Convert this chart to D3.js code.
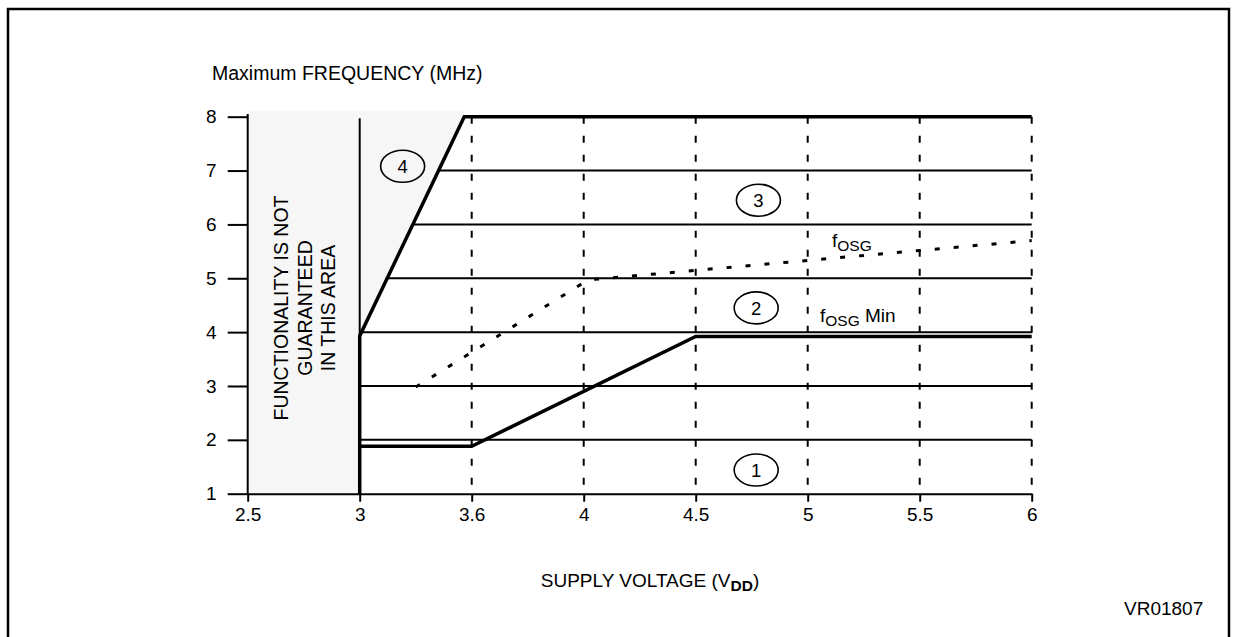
<!DOCTYPE html>
<html><head><meta charset="utf-8">
<script src="https://cdn.jsdelivr.net/npm/d3@7"></script>
<style>
body{margin:0;background:#fff}
text{font-family:"Liberation Sans",Arial,sans-serif;fill:#000}
</style>
</head><body>
<svg id="c" width="1233" height="637"></svg>
<script>
// ---- data ----
const xTicks = [2.5, 3, 3.6, 4, 4.5, 5, 5.5, 6];
const yTicks = [1, 2, 3, 4, 5, 6, 7, 8];
const gridY = [2, 3, 4, 5, 6, 7];
const dashedX = [3.6, 4, 4.5, 5, 5.5, 6];
const region4Boundary = [[3, 1], [3, 3.93], [3.56, 8], [6, 8]];
const fosgMin = [[3, 1.88], [3.6, 1.88], [4.5, 3.92], [6, 3.92]];
const fosg = [[3.3, 2.98], [4.02, 4.97], [6, 5.7]];
const shadedArea = [[2.5, 8.11], [3.56, 8.11], [3.56, 8], [3, 3.93], [3, 1], [2.5, 1]];
const regionLabels = ["1", "2", "3", "4"];
const regionAnchors = [[4.77, 1.44], [4.77, 4.45], [4.78, 6.45], [3.23, 7.08]];
const warningLines = ["FUNCTIONALITY IS NOT", "GUARANTEED", "IN THIS AREA"];

// ---- layout ----
const svg = d3.select("#c");
const x = d3.scaleLinear().domain(xTicks).range(xTicks.map((d, i) => 247.7 + i * 112));
const y = d3.scaleLinear().domain([1, 8]).range([493.7, 116.7]);
const line = d3.line().x(d => x(d[0])).y(d => y(d[1]));

// frame
svg.append("path").attr("d", "M8,640V9H1229V640").attr("fill", "none")
  .attr("stroke", "#000").attr("stroke-width", 2.5);

// horizontal grid
svg.append("g").selectAll("line").data(gridY).join("line")
  .attr("x1", x(3)).attr("x2", x(6)).attr("y1", d => y(d)).attr("y2", d => y(d))
  .attr("stroke", "#000").attr("stroke-width", 2);

// dashed verticals
svg.append("g").selectAll("line").data(dashedX).join("line")
  .attr("x1", d => x(d)).attr("x2", d => x(d)).attr("y1", y(8)).attr("y2", y(1))
  .attr("stroke", "#000").attr("stroke-width", 2).attr("stroke-dasharray", "7,12");

// shaded area
svg.append("path").attr("d", line(shadedArea) + "Z").attr("fill", "#f6f6f6");

// thin vertical at 3
svg.append("line").attr("x1", x(3)).attr("x2", x(3)).attr("y1", y(7.97)).attr("y2", y(1))
  .attr("stroke", "#000").attr("stroke-width", 2);

// axes
const ax = svg.append("g").attr("transform", `translate(0,${y(1)})`)
  .call(d3.axisBottom(x).tickValues(xTicks).tickFormat(d => d).tickSize(8).tickSizeOuter(0).tickPadding(6));
const ay = svg.append("g").attr("transform", `translate(${x(2.5)},0)`)
  .call(d3.axisLeft(y).tickValues(yTicks).tickFormat(d => d).tickSize(20).tickSizeOuter(0).tickPadding(11));
[ax, ay].forEach(g => {
  g.selectAll("path,line").attr("stroke", "#000").attr("stroke-width", 2);
  g.selectAll("text").attr("font-size", 19).attr("font-family", "Liberation Sans, Arial, sans-serif").attr("fill", "#000");
});
ay.select(".domain").attr("d", `M0,${y(1)}V${y(8.05)}`);

// curves
svg.append("path").attr("d", line(region4Boundary)).attr("fill", "none")
  .attr("stroke", "#000").attr("stroke-width", 3.5);
svg.append("path").attr("d", line(fosgMin)).attr("fill", "none")
  .attr("stroke", "#000").attr("stroke-width", 3.5);
svg.append("path").attr("d", line(fosg)).attr("fill", "none")
  .attr("stroke", "#000").attr("stroke-width", 3).attr("stroke-dasharray", "5,14");

// region markers
const rg = svg.append("g").selectAll("g").data(regionLabels).join("g")
  .attr("transform", (d, i) => `translate(${x(regionAnchors[i][0])},${y(regionAnchors[i][1])})`);
rg.append("ellipse").attr("rx", 22).attr("ry", 16).attr("fill", "none")
  .attr("stroke", "#000").attr("stroke-width", 1.6);
rg.append("text").attr("text-anchor", "middle").attr("dy", "0.36em").attr("font-size", 18.5).text(d => d);

// fOSG labels
const t1 = svg.append("text").attr("x", 832).attr("y", 247).attr("font-size", 19);
t1.append("tspan").text("f");
t1.append("tspan").attr("dy", 4).attr("font-size", 15.5).text("OSG");
const t2 = svg.append("text").attr("x", 820).attr("y", 322).attr("font-size", 19);
t2.append("tspan").text("f");
t2.append("tspan").attr("dy", 4).attr("font-size", 15.5).text("OSG");
t2.append("tspan").attr("dy", -4).text(" Min");

// warning text
svg.append("g").selectAll("text").data(warningLines).join("text")
  .attr("transform", (d, i) => `translate(${288 + i * 23.5},308) rotate(-90)`)
  .attr("text-anchor", "middle").attr("font-size", 19.5).text(d => d);

// titles
svg.append("text").attr("x", 212).attr("y", 79.5).attr("font-size", 19.5).text("Maximum FREQUENCY (MHz)");
const xt = svg.append("text").attr("x", 650).attr("y", 587).attr("text-anchor", "middle").attr("font-size", 19);
xt.append("tspan").text("SUPPLY VOLTAGE (V");
xt.append("tspan").attr("dy", 4).attr("font-size", 15.5).attr("font-weight", "bold").text("DD");
xt.append("tspan").attr("dy", -4).text(")");
svg.append("text").attr("x", 1124).attr("y", 615).attr("font-size", 19).text("VR01807");
</script>
</body></html>
